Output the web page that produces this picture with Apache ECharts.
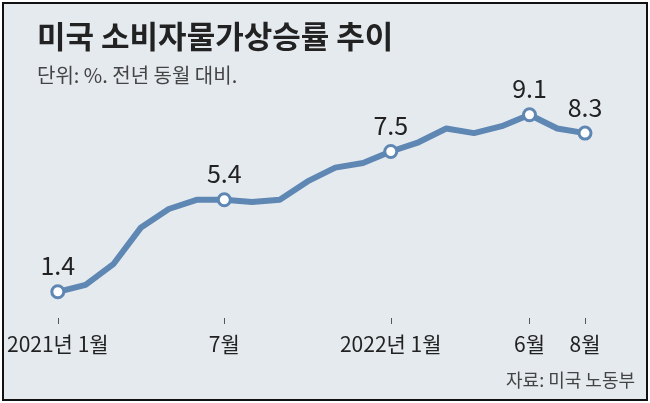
<!DOCTYPE html>
<html>
<head>
<meta charset="utf-8">
<script src="https://cdn.jsdelivr.net/npm/echarts@6/dist/echarts.min.js"></script>
<style>
html,body{margin:0;padding:0;background:#fff;}
#main{position:absolute;left:2px;top:2px;width:642px;height:395px;border:2px solid #111;background:#e5eaef;}
</style>
</head>
<body>
<div id="main"></div>
<script>
var months = ['2021-01','2021-02','2021-03','2021-04','2021-05','2021-06','2021-07','2021-08','2021-09','2021-10','2021-11','2021-12',
              '2022-01','2022-02','2022-03','2022-04','2022-05','2022-06','2022-07','2022-08'];
var cpi = [1.4, 1.7, 2.6, 4.2, 5.0, 5.4, 5.4, 5.3, 5.4, 6.2, 6.8, 7.0, 7.5, 7.9, 8.5, 8.3, 8.6, 9.1, 8.5, 8.3];
var tickLabels = {0: '2021년 1월', 6: '7월', 12: '2022년 1월', 17: '6월', 19: '8월'};
var marked = [0, 6, 12, 17, 19];

var font = '"Noto Sans CJK KR", "Noto Sans", sans-serif';
var dom = document.getElementById('main');
var myChart = echarts.init(dom);

var seriesData = cpi.map(function (v, i) {
    var on = marked.indexOf(i) >= 0;
    return {
        value: v,
        symbol: on ? 'circle' : 'none',
        label: { show: on }
    };
});

var option = {
    title: [
        { text: '미국 소비자물가상승률 추이', left: 28, top: 12,
          textStyle: { fontFamily: font, fontSize: 31, fontWeight: 'bold', color: '#222' } },
        { text: '단위: %. 전년 동월 대비.', left: 28, top: 56,
          textStyle: { fontFamily: font, fontSize: 20, fontWeight: 'normal', color: '#444' } },
        { text: '자료: 미국 노동부', right: 6, top: 362,
          textStyle: { fontFamily: font, fontSize: 18, fontWeight: 'normal', color: '#444' } }
    ],
    grid: { left: 42, right: 61, top: 90, height: 230 },
    xAxis: {
        type: 'category',
        data: months,
        boundaryGap: false,
        axisLine: { show: false },
        axisTick: { show: true, inside: true, length: 6, lineStyle: { color: '#555' },
                    interval: function (i) { return tickLabels[i] !== undefined; } },
        axisLabel: { interval: 0, margin: 10, fontFamily: font, fontSize: 21, color: '#222',
                     formatter: function (v, i) { return tickLabels[i] || ''; } }
    },
    yAxis: { type: 'value', min: 0, max: 10, show: false },
    series: [{
        type: 'line',
        data: seriesData,
        symbolSize: 12,
        itemStyle: { color: '#fff', borderColor: '#5f87b3', borderWidth: 3 },
        lineStyle: { color: '#5f87b3', width: 6 },
        label: { position: 'top', distance: 6, fontFamily: font, fontSize: 25, color: '#222',
                 formatter: function (p) { return p.value.toFixed(1); } },
        z: 3
    }]
};

if (option && typeof option === "object") {
    myChart.setOption(option, true);
}
</script>
</body>
</html>
